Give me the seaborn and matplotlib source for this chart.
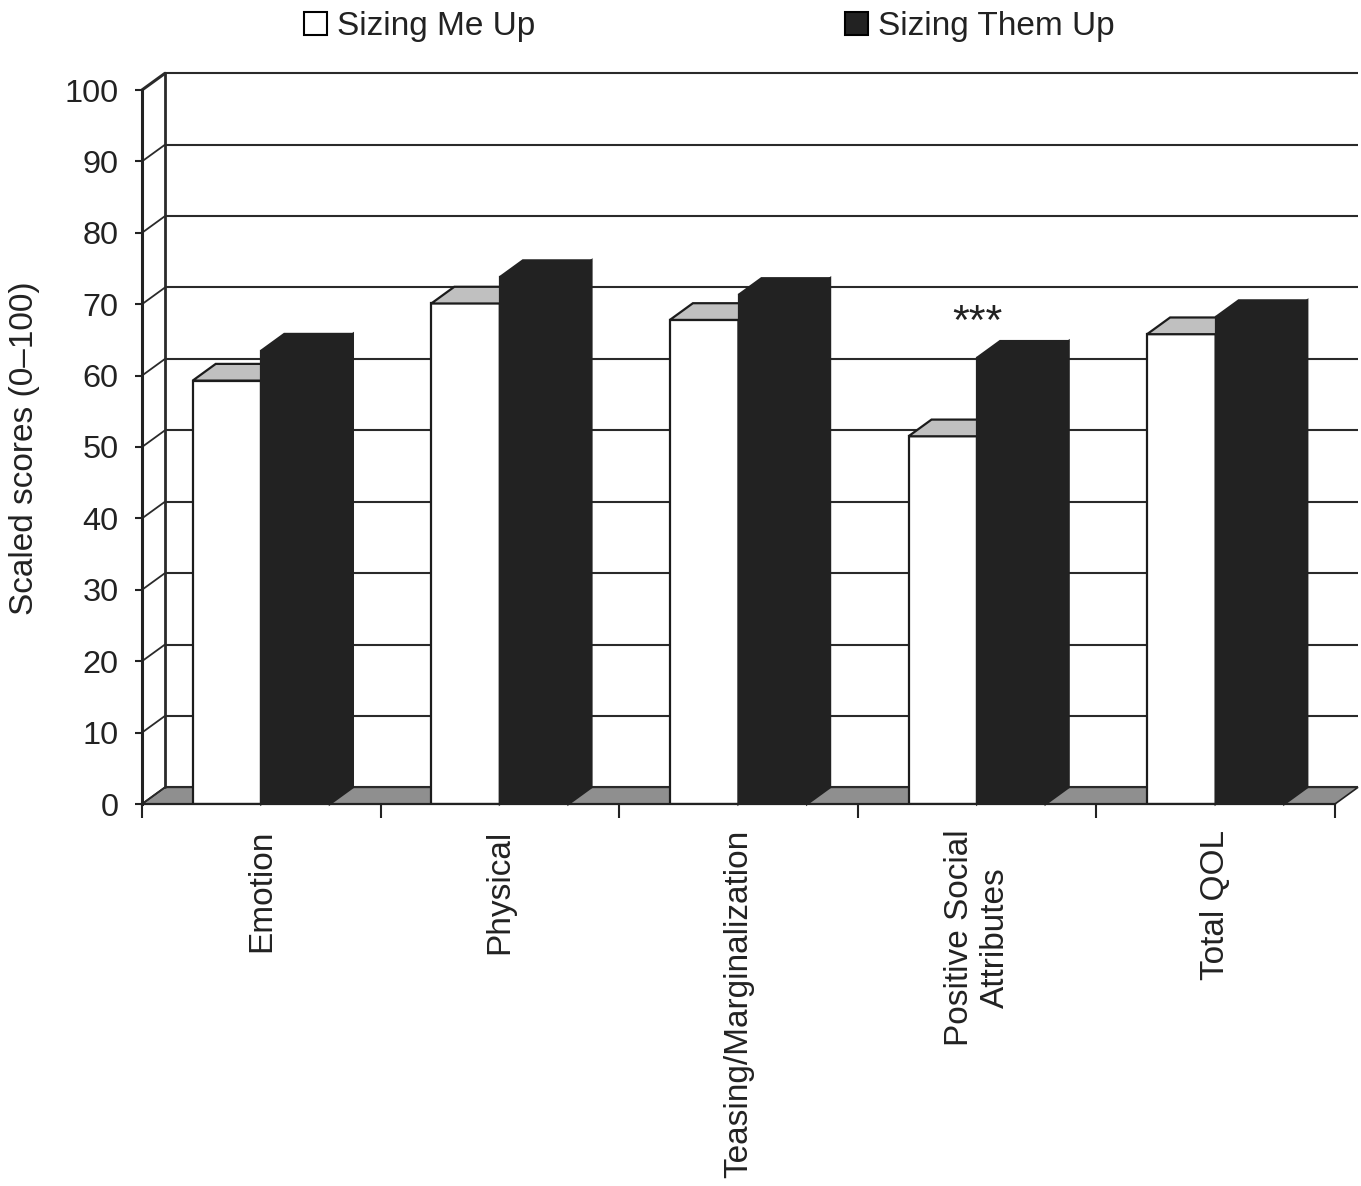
import numpy as np
import pandas as pd
import matplotlib
matplotlib.use("Agg")
import matplotlib.pyplot as plt
import seaborn as sns
from matplotlib.patches import Polygon, Patch

# ---------------- data ----------------
categories = ["Emotion", "Physical", "Teasing/Marginalization",
              "Positive Social\nAttributes", "Total QOL"]
series_names = ["Sizing Me Up", "Sizing Them Up"]
me_up = [59.3, 70.1, 67.8, 51.5, 65.8]
them_up = [63.5, 73.8, 71.3, 62.5, 68.2]
y_ticks = [0, 10, 20, 30, 40, 50, 60, 70, 80, 90, 100]
y_label = "Scaled scores (0\u2013100)"
annotation = "***"
annotation_category = 3
annotation_value = 65.8

# ---------------- style ----------------
sns.set_style("white")
plt.rcParams["font.family"] = ["Liberation Sans", "DejaVu Sans"]

W, H = 1361, 1186
fig = plt.figure(figsize=(W / 100, H / 100), dpi=100)

# plot frame (pixels): front axis x=142, category span to 1335, depth offset 23 x 16.7 px
left_px, right_front_px, bottom_px, top_front_px = 142, 1335, 804, 90
depth_x_px, depth_y_px = 23, 16.7
cat_px = (right_front_px - left_px) / len(categories)
unit_px = (bottom_px - top_front_px) / 100.0
DX = depth_x_px / cat_px
DY = depth_y_px / unit_px

ax_left = left_px
ax_right = right_front_px + depth_x_px
ax_top = top_front_px - depth_y_px
ax = fig.add_axes([ax_left / W, 1 - bottom_px / H,
                   (ax_right - ax_left) / W, (bottom_px - ax_top) / H])

df = pd.DataFrame({
    "category": categories * 2,
    "score": me_up + them_up,
    "series": [series_names[0]] * len(categories) + [series_names[1]] * len(categories),
})

front_colors = {series_names[0]: "white", series_names[1]: "#222222"}

sns.barplot(data=df, x="category", y="score", hue="series",
            order=categories, hue_order=series_names,
            palette=[front_colors[s] for s in series_names],
            saturation=1, width=0.575, edgecolor="#1c1c1c", linewidth=1.6,
            legend=False, ax=ax)

n = len(categories)
ax.set_xlim(-0.5, n - 0.5 + DX)
ax.set_ylim(0, 100 + DY)

x0, x1 = -0.5, n - 0.5
# floor
ax.add_patch(Polygon([(x0, 0), (x1, 0), (x1 + DX, DY), (x0 + DX, DY)],
                     closed=True, facecolor="#8f8f8f", edgecolor="#222222",
                     lw=1.2, zorder=1, clip_on=False))
# back-wall gridlines and side-wall diagonals
for v in y_ticks:
    ax.plot([x0 + DX, x1 + DX], [v + DY, v + DY], color="#2a2a2a", lw=1.5,
            zorder=1.2, clip_on=False, solid_capstyle="butt")
    ax.plot([x0, x0 + DX], [v, v + DY], color="#2a2a2a",
            lw=2.2 if v == 100 else 1.3, zorder=1.2, clip_on=False)
ax.plot([x0 + DX, x0 + DX], [DY, 100 + DY], color="#2a2a2a", lw=2,
        zorder=1.2, clip_on=False)

# 3D faces for bars
for p in ax.patches:
    if not isinstance(p, matplotlib.patches.Rectangle):
        continue
    fc = p.get_facecolor()
    is_white = fc[0] > 0.5
    base_z = 2 if is_white else 3
    p.set_zorder(base_z)
    bx, bw, bh = p.get_x(), p.get_width(), p.get_height()
    face_top = "#c0c0c0" if is_white else "#222222"
    side = "#e0e0e0" if is_white else "#222222"
    edge = "#1c1c1c" if is_white else "#222222"
    if not is_white:
        p.set_edgecolor("#222222")
    ax.add_patch(Polygon([(bx + bw, 0), (bx + bw + DX, DY),
                          (bx + bw + DX, bh + DY), (bx + bw, bh)],
                         closed=True, facecolor=side, edgecolor=edge,
                         lw=1.6, zorder=base_z + 0.1, clip_on=False,
                         joinstyle="miter"))
    ax.add_patch(Polygon([(bx, bh), (bx + bw, bh),
                          (bx + bw + DX, bh + DY), (bx + DX, bh + DY)],
                         closed=True, facecolor=face_top, edgecolor=edge,
                         lw=1.6, zorder=base_z + 0.2, clip_on=False,
                         joinstyle="miter"))

# annotation
ax.text(annotation_category, annotation_value, annotation, ha="center",
        va="baseline", fontsize=31, color="#222222", zorder=5)

# axes / ticks
for s in ["top", "right"]:
    ax.spines[s].set_visible(False)
ax.spines["left"].set_bounds(0, 100)
ax.spines["left"].set_linewidth(2.2)
ax.spines["left"].set_color("#222222")
ax.spines["bottom"].set_bounds(x0, x1)
ax.spines["bottom"].set_linewidth(1.6)
ax.spines["bottom"].set_color("#222222")
ax.spines["left"].set_zorder(6)
ax.spines["bottom"].set_zorder(6)

ax.set_yticks(y_ticks)
ax.set_yticklabels([str(t) for t in y_ticks])
ax.tick_params(axis="y", direction="out", length=5, width=1.5,
               color="#222222", labelsize=23.4, pad=12, left=True)
ax.set_xticks(range(n))
ax.set_xticklabels(categories, rotation=90, fontsize=24, color="#222222")
ax.set_xticks(np.arange(n + 1) - 0.5, minor=True)
ax.tick_params(axis="x", which="major", length=0, pad=18.5)
ax.tick_params(axis="x", which="minor", direction="out", length=10,
               width=1.5, color="#222222", bottom=True)
ax.set_xlabel("")
ax.set_ylabel("")
for lab in ax.get_yticklabels():
    lab.set_color("#222222")

fig.text(25 / W, 1 - 448 / H, y_label, rotation=90, ha="center", va="center",
         fontsize=24, color="#222222")

handles = [Patch(facecolor=front_colors[s], edgecolor="black", lw=1.5)
           for s in series_names]
fig.legend(handles, series_names, loc="upper left",
           bbox_to_anchor=(304 / W, 1 - 11 / H), ncol=2, frameon=False,
           fontsize=24, handlelength=0.69, handleheight=0.69,
           handletextpad=0.3, columnspacing=9.3, borderpad=0,
           borderaxespad=0, labelcolor="#222222")

fig.savefig("out.png", dpi=100)
